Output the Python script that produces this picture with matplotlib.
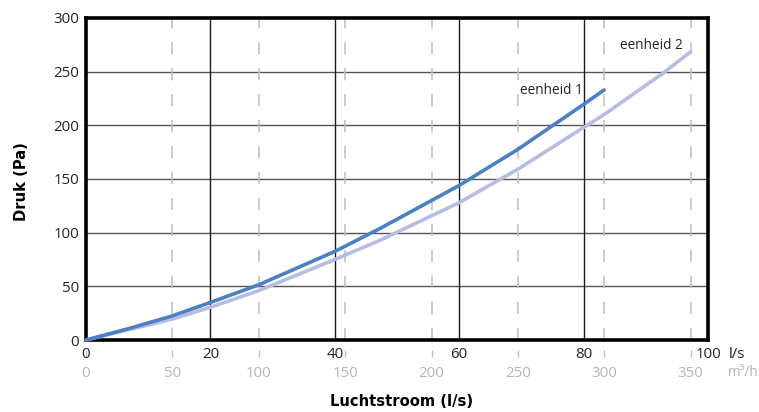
import matplotlib
matplotlib.use("Agg")
import matplotlib.pyplot as plt
import numpy as np

# airflow in l/s, pressure in Pa
flow_1 = [0, 7.1, 13.9, 20, 27.8, 40, 47.3, 60, 69.4, 80, 83.3]
druk_1 = [0, 11, 22.5, 35, 51.5, 82.5, 104, 144, 177.5, 219.5, 233]
flow_2 = [0, 13.9, 20, 27.8, 40, 47.3, 60, 69.4, 80, 83.3, 93.1, 97.2]
druk_2 = [0, 19.5, 30.5, 46, 75, 93, 128, 159, 198, 210, 250, 268.5]

ls_ticks = [0, 20, 40, 60, 80, 100]
m3h_ticks = [0, 50, 100, 150, 200, 250, 300, 350]
pa_ticks = [0, 50, 100, 150, 200, 250, 300]

BLUE = "#4a80c4"
LILAC = "#b6bde2"
GREY = "#bdbdbd"
TXT = "#222222"

plt.rcParams["font.family"] = ["Open Sans", "DejaVu Sans"]

fig = plt.figure(figsize=(7.59, 4.12), dpi=100)
ax = fig.add_axes([86 / 759, 1 - 340 / 412, 622 / 759, 322 / 412])

ax.set_xlim(0, 100)
ax.set_ylim(0, 300)

# grid: horizontal, solid vertical (l/s) and dashed vertical (m3/h)
for y in pa_ticks[1:-1]:
    ax.axhline(y, color="#555555", lw=1.0, zorder=1)
for x in ls_ticks[1:-1]:
    ax.axvline(x, color="#1a1a1a", lw=1.0, zorder=1)
for m in m3h_ticks[1:]:
    ax.axvline(m / 3.6, color=GREY, lw=1.1, dashes=(8, 9), zorder=1)

ax.plot(flow_2, druk_2, color=LILAC, lw=2.6, solid_capstyle="round", zorder=3, clip_on=False)
ax.plot(flow_1, druk_1, color=BLUE, lw=2.6, solid_capstyle="round", zorder=4, clip_on=False)

ax.text(69.8, 232, "eenheid 1", fontsize=9.8, color=TXT, va="center", ha="left")
ax.text(85.9, 274, "eenheid 2", fontsize=9.8, color=TXT, va="center", ha="left")

for s in ax.spines.values():
    s.set_linewidth(2.6)
    s.set_color("black")

ax.set_yticks(pa_ticks)
ax.set_xticks(ls_ticks)
ax.tick_params(axis="y", length=0, pad=5, labelsize=10.8, labelcolor=TXT)
ax.tick_params(axis="x", length=0, pad=5, labelsize=10.8, labelcolor=TXT)

# second scale in m3/h under the axis
sec = ax.secondary_xaxis("bottom", functions=(lambda x: x * 3.6, lambda x: x / 3.6))
sec.spines["bottom"].set_position(("outward", 7.5))
sec.spines["bottom"].set_visible(False)
sec.set_xticks(m3h_ticks)
sec.tick_params(axis="x", length=5, width=1, color=GREY, pad=6.5, labelsize=10.8, labelcolor="#b5b5b5")

fig.text(729 / 759, 1 - 355 / 412, "l/s", fontsize=10.8, color=TXT, va="center", ha="left")
fig.text(728 / 759, 1 - 373 / 412, "m³/h", fontsize=9.8, color="#b5b5b5", va="center", ha="left")

label_font = dict(family="DejaVu Sans", stretch="condensed", weight="bold", fontsize=11.8, color="black")
fig.text(402 / 759, 1 - 401 / 412, "Luchtstroom (l/s)", ha="center", va="center", **label_font)
fig.text(22 / 759, 1 - 182 / 412, "Druk (Pa)", ha="center", va="center", rotation=90, **label_font)

fig.savefig("out.png", dpi=100)
